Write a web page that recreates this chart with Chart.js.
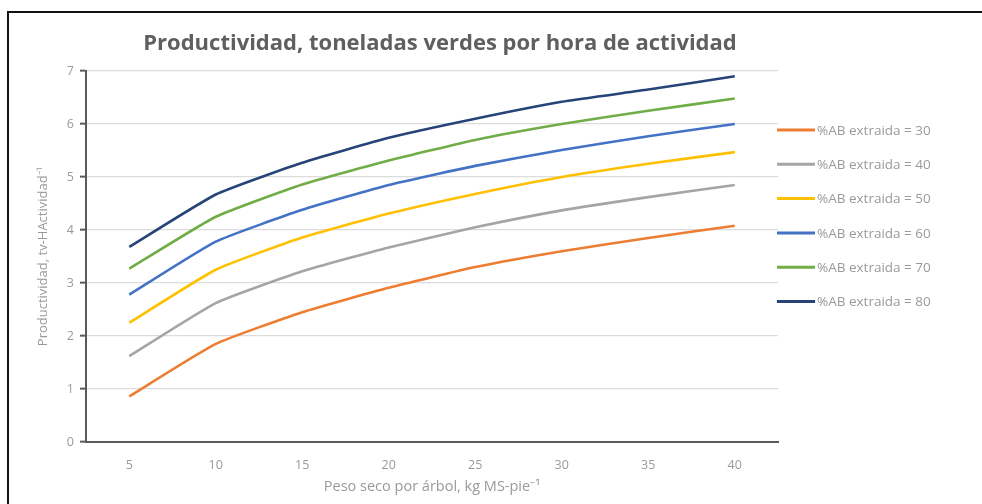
<!DOCTYPE html>
<html>
<head>
<meta charset="utf-8">
<script src="https://cdn.jsdelivr.net/npm/chart.js@4.4.0/dist/chart.umd.min.js"></script>
<style>
  html, body { margin: 0; padding: 0; background: #fff; }
  #wrap { position: relative; width: 982px; height: 504px; }
  #frame { position: absolute; left: 7px; top: 11px; right: 0; bottom: 0; border-left: 2px solid #111; border-top: 2px solid #111; }
  canvas { position: absolute; left: 0; top: 0; }
</style>
</head>
<body>
<div id="wrap">
  <div id="frame"></div>
  <canvas id="myChart" width="982" height="504"></canvas>
</div>
<script>
// peso seco por arbol (kg MS/pie)
const pesoSeco = ["5", "10", "15", "20", "25", "30", "35", "40"];
const yTicks = [0, 1, 2, 3, 4, 5, 6, 7];

// productividad por %AB extraida
const ab30 = [0.86, 1.85, 2.45, 2.91, 3.30, 3.60, 3.85, 4.08];
const ab40 = [1.62, 2.62, 3.22, 3.67, 4.05, 4.37, 4.62, 4.85];
const ab50 = [2.25, 3.25, 3.86, 4.31, 4.68, 5.00, 5.25, 5.47];
const ab60 = [2.78, 3.78, 4.38, 4.85, 5.21, 5.51, 5.77, 6.00];
const ab70 = [3.27, 4.25, 4.86, 5.31, 5.70, 6.00, 6.25, 6.48];
const ab80 = [3.68, 4.67, 5.27, 5.74, 6.10, 6.42, 6.65, 6.90];

const seriesNames = ["%AB extraida = 30", "%AB extraida = 40", "%AB extraida = 50",
  "%AB extraida = 60", "%AB extraida = 70", "%AB extraida = 80"];
const seriesColors = ["#ED7D31", "#A5A5A5", "#FFC000", "#4472C4", "#70AD47", "#264478"];
const seriesData = [ab30, ab40, ab50, ab60, ab70, ab80];

const FONT = "'Open Sans', sans-serif";
const textGray = "#9a9a9a";

// title + legend drawn by hand to place them like the original
const extrasPlugin = {
  id: "extras",
  afterDraw(chart) {
    const ctx = chart.ctx;
    ctx.save();
    ctx.fillStyle = "#5f5f5f";
    ctx.font = "bold 22px " + FONT;
    ctx.textAlign = "center";
    ctx.textBaseline = "middle";
    ctx.fillText("Productividad, toneladas verdes por hora de actividad", 440, 44);

    ctx.font = "13.5px " + FONT;
    ctx.textAlign = "left";
    chart.data.datasets.forEach((ds, i) => {
      const y = 130 + i * 34.3;
      ctx.strokeStyle = ds.borderColor;
      ctx.lineWidth = 3;
      ctx.beginPath();
      ctx.moveTo(777, y);
      ctx.lineTo(815, y);
      ctx.stroke();
      ctx.fillStyle = textGray;
      ctx.fillText(ds.label, 817, y + 1);
    });
    ctx.restore();
  },
};

const ctx = document.getElementById("myChart").getContext("2d");
const myChart = new Chart(ctx, {
  type: "line",
  plugins: [extrasPlugin],
  data: {
    labels: pesoSeco,
    datasets: seriesData.map((d, i) => ({
      label: seriesNames[i],
      data: d,
      borderColor: seriesColors[i],
      backgroundColor: seriesColors[i],
      borderWidth: 2.6,
      pointRadius: 0,
      tension: 0.15,
      fill: false,
    })),
  },
  options: {
    responsive: false,
    animation: false,
    maintainAspectRatio: false,
    layout: { padding: { left: 30, top: 71, right: 204, bottom: 0 } },
    plugins: {
      legend: { display: false },
      title: { display: false },
      tooltip: { enabled: false },
    },
    scales: {
      x: {
        offset: true,
        grid: { display: false },
        border: { display: true, color: "#5a5a5a", width: 2 },
        ticks: { color: textGray, font: { family: FONT, size: 12.5 }, padding: 8, maxRotation: 0 },
        title: {
          display: true,
          text: "Peso seco por árbol, kg MS-pie⁻¹",
          color: textGray,
          font: { family: FONT, size: 14.5 },
          padding: { top: 0, bottom: 8 },
        },
        afterFit(scale) { scale.height = 62; },
      },
      y: {
        min: 0,
        max: 7,
        afterBuildTicks(scale) { scale.ticks = yTicks.map((v) => ({ value: v })); },
        grid: { color: "#dcdcdc", lineWidth: 1.3, drawTicks: true, tickLength: 6, tickColor: "#5a5a5a", tickWidth: 2 },
        border: { display: true, color: "#5a5a5a", width: 2 },
        ticks: { color: textGray, font: { family: FONT, size: 12.5 }, padding: 6 },
        title: {
          display: true,
          text: "Productividad, tv-HActividad⁻¹",
          color: textGray,
          font: { family: FONT, size: 13 },
          padding: { top: 5, bottom: 0 },
        },
        afterFit(scale) { scale.width = 56; },
      },
    },
  },
});
</script>
</body>
</html>
